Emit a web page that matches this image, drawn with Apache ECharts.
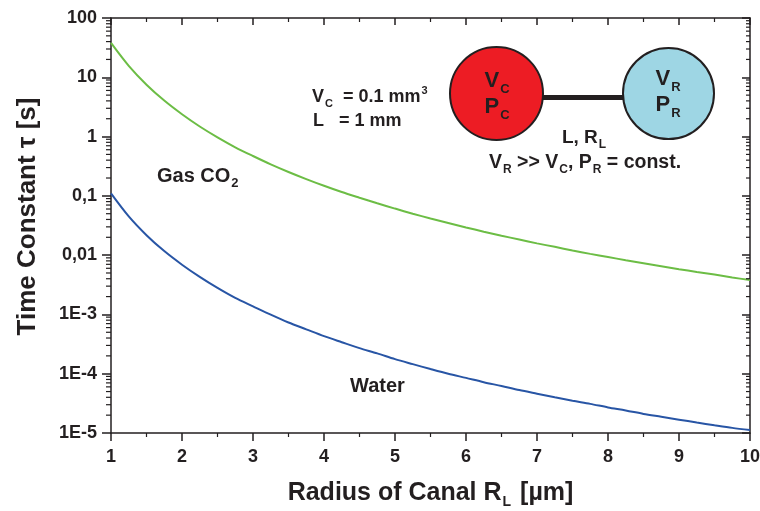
<!DOCTYPE html>
<html>
<head>
<meta charset="utf-8">
<script src="https://cdn.jsdelivr.net/npm/echarts@6/dist/echarts.min.js"></script>
<style>
html,body{margin:0;padding:0;background:#fff;}
#chart{width:760px;height:511px;}
</style>
</head>
<body>
<div id="chart"></div>
<script>
// ---- data ----
const radius = [1, 1.25, 1.5, 1.75, 2, 2.25, 2.5, 2.75, 3, 3.25, 3.5, 3.75, 4, 4.25, 4.5, 4.75, 5, 5.25, 5.5, 5.75,
                6, 6.25, 6.5, 6.75, 7, 7.25, 7.5, 7.75, 8, 8.25, 8.5, 8.75, 9, 9.25, 9.5, 9.75, 10];
const gasCO2 = [38, 15.6, 7.5, 4.05, 2.38, 1.48, 0.97, 0.66, 0.47, 0.34, 0.253, 0.192, 0.148, 0.116, 0.093, 0.075, 0.061, 0.050, 0.0415, 0.0348,
                0.0293, 0.0249, 0.0213, 0.0183, 0.0158, 0.0138, 0.0120, 0.0105, 0.0093, 0.0082, 0.0073, 0.0065, 0.0058, 0.0052, 0.0047, 0.0042, 0.0038];
const water = [0.11, 0.045, 0.0217, 0.0117, 0.0069, 0.0043, 0.0028, 0.0019, 0.00137, 0.00099, 0.00073, 0.00056, 0.00043, 0.00034, 0.00027, 0.00022, 0.000176, 0.000145, 0.00012, 0.0001,
               0.000085, 0.000072, 0.000062, 0.000053, 0.000046, 0.00004, 0.000035, 0.000031, 0.000027, 0.000024, 0.000021, 0.0000188, 0.0000168, 0.000015, 0.0000135, 0.0000122, 0.0000112];
const yTickLabels = ['1E-5', '1E-4', '1E-3', '0,01', '0,1', '1', '10', '100'];
const xTickLabels = ['1', '2', '3', '4', '5', '6', '7', '8', '9', '10'];

const INK = '#231f20';
const FONT = '"Liberation Sans", Arial, Helvetica, sans-serif';

// log minor tick positions (2..9 in each decade)
const yMinorLeft = [], yMinorRight = [];
for (let e = -5; e < 2; e++) {
  for (let m = 2; m <= 9; m++) {
    const v = m * Math.pow(10, e);
    yMinorLeft.push([1, v, 0]);
    yMinorRight.push([10, v, 1]);
  }
}

const gasData = radius.map((r, i) => [r, gasCO2[i]]);
const waterData = radius.map((r, i) => [r, water[i]]);

const chart = echarts.init(document.getElementById('chart'), null, {renderer: 'canvas'});

const axisLine = {show: true, lineStyle: {color: INK, width: 1.5}};
const tickLbl = {fontSize: 18, fontWeight: 'bold', fontFamily: FONT, color: INK};

function richSet(big, small, pad) {
  return {
    b: {fontSize: big, fontWeight: 'bold', fontFamily: FONT, fill: INK},
    s: {fontSize: small, fontWeight: 'bold', fontFamily: FONT, fill: INK, padding: [pad, 0, 0, 1]},
    p: {fontSize: small, fontWeight: 'bold', fontFamily: FONT, fill: INK, padding: [0, 0, pad, 1]}
  };
}

const option = {
  animation: false,
  backgroundColor: '#fff',
  grid: {left: 111, right: 10, top: 18, bottom: 78, containLabel: false, outerBoundsMode: 'none'},
  xAxis: [
    {
      type: 'value', min: 1, max: 10, interval: 1, position: 'bottom',
      axisLine: axisLine,
      axisTick: {show: true, length: 8, lineStyle: {color: INK, width: 1.5}},
      minorTick: {show: true, splitNumber: 2, length: 4, lineStyle: {color: INK, width: 1.2}},
      splitLine: {show: false},
      axisLabel: Object.assign({margin: 15, formatter: v => xTickLabels[Math.round(v) - 1]}, tickLbl),
      name: '{b|Radius of Canal R}{s|L}{b| [µm]}',
      nameLocation: 'middle', nameGap: 44,
      nameTextStyle: {
        rich: {
          b: {fontSize: 25, fontWeight: 'bold', fontFamily: FONT, color: INK},
          s: {fontSize: 14, fontWeight: 'bold', fontFamily: FONT, color: INK, padding: [18, 2, 0, 1]}
        }
      }
    },
    {
      type: 'value', min: 1, max: 10, interval: 1, position: 'top',
      axisLine: axisLine,
      axisTick: {show: true, inside: true, length: 7, lineStyle: {color: INK, width: 1.5}},
      minorTick: {show: true, splitNumber: 2, length: 4, lineStyle: {color: INK, width: 1.2}},
      splitLine: {show: false},
      axisLabel: {show: false}
    }
  ],
  yAxis: [
    {
      type: 'log', logBase: 10, min: 1e-5, max: 100, interval: 1, position: 'left',
      axisLine: axisLine,
      axisTick: {show: true, length: 9, lineStyle: {color: INK, width: 1.5}},
      minorTick: {show: false},
      splitLine: {show: false},
      axisLabel: Object.assign({margin: 14, formatter: v => yTickLabels[Math.round(Math.log10(v)) + 5]}, tickLbl),
      name: 'Time Constant τ [s]',
      nameLocation: 'middle', nameGap: 70,
      nameTextStyle: {fontSize: 26, fontWeight: 'bold', fontFamily: FONT, color: INK, padding: [0, 0, 0, 18]}
    },
    {
      type: 'log', logBase: 10, min: 1e-5, max: 100, interval: 1, position: 'right',
      axisLine: axisLine,
      axisTick: {show: true, inside: true, length: 8, lineStyle: {color: INK, width: 1.5}},
      minorTick: {show: false},
      splitLine: {show: false},
      axisLabel: {show: false}
    }
  ],
  series: [
    {
      name: 'Gas CO2', type: 'line', data: gasData, smooth: 0.3, showSymbol: false,
      lineStyle: {color: '#6cbd45', width: 2}, xAxisIndex: 0, yAxisIndex: 0, z: 3
    },
    {
      name: 'Water', type: 'line', data: waterData, smooth: 0.3, showSymbol: false,
      lineStyle: {color: '#2855a5', width: 2}, xAxisIndex: 0, yAxisIndex: 0, z: 3
    },
    {
      type: 'custom', data: yMinorLeft.concat(yMinorRight), xAxisIndex: 0, yAxisIndex: 0,
      clip: false, silent: true, z: 4,
      renderItem: function (params, api) {
        const p = api.coord([api.value(0), api.value(1)]);
        const right = api.value(2) === 1;
        return {
          type: 'line',
          shape: right ? {x1: p[0] - 4, y1: p[1], x2: p[0], y2: p[1]} : {x1: p[0] - 5, y1: p[1], x2: p[0], y2: p[1]},
          style: {stroke: INK, lineWidth: 1.2}
        };
      }
    }
  ],
  graphic: [
    // schematic
    {type: 'line', shape: {x1: 540, y1: 97.5, x2: 626, y2: 97.5}, style: {stroke: INK, lineWidth: 5}, z: 10},
    {type: 'circle', shape: {cx: 496.5, cy: 93.5, r: 46.5}, style: {fill: '#ed1c24', stroke: INK, lineWidth: 2}, z: 11},
    {type: 'circle', shape: {cx: 668.5, cy: 93.5, r: 45.5}, style: {fill: '#9ed6e4', stroke: INK, lineWidth: 2}, z: 11},
    {type: 'text', z: 12, style: {x: 497, y: 81, text: '{b|V}{s|C}', textAlign: 'center', textVerticalAlign: 'middle', rich: richSet(22, 13, 17)}},
    {type: 'text', z: 12, style: {x: 497, y: 107, text: '{b|P}{s|C}', textAlign: 'center', textVerticalAlign: 'middle', rich: richSet(22, 13, 17)}},
    {type: 'text', z: 12, style: {x: 668, y: 79, text: '{b|V}{s|R}', textAlign: 'center', textVerticalAlign: 'middle', rich: richSet(22, 13, 17)}},
    {type: 'text', z: 12, style: {x: 668, y: 105, text: '{b|P}{s|R}', textAlign: 'center', textVerticalAlign: 'middle', rich: richSet(22, 13, 17)}},
    {type: 'text', z: 12, style: {x: 584, y: 138, text: '{b|L, R}{s|L}', textAlign: 'center', textVerticalAlign: 'middle', rich: richSet(19, 12, 14)}},
    {type: 'text', z: 12, style: {x: 585, y: 163, text: '{b|V}{s|R}{b| >> V}{s|C}{b|, P}{s|R}{b| = const.}', textAlign: 'center', textVerticalAlign: 'middle', rich: richSet(19.5, 12, 14)}},
    // parameters
    {type: 'text', z: 12, style: {x: 312, y: 97, text: '{b|V}{s|C}{b|  = 0.1 mm}{p|3}', textAlign: 'left', textVerticalAlign: 'middle', rich: richSet(18, 11, 13)}},
    {type: 'text', z: 12, style: {x: 313, y: 121, text: '{b|L   = 1 mm}', textAlign: 'left', textVerticalAlign: 'middle', rich: richSet(18, 11, 13)}},
    // series labels
    {type: 'text', z: 12, style: {x: 157, y: 176, text: '{b|Gas CO}{s|2}', textAlign: 'left', textVerticalAlign: 'middle', rich: richSet(20, 13, 15)}},
    {type: 'text', z: 12, style: {x: 350, y: 386, text: '{b|Water}', textAlign: 'left', textVerticalAlign: 'middle', rich: richSet(20, 13, 15)}}
  ]
};
chart.setOption(option);
</script>
</body>
</html>
